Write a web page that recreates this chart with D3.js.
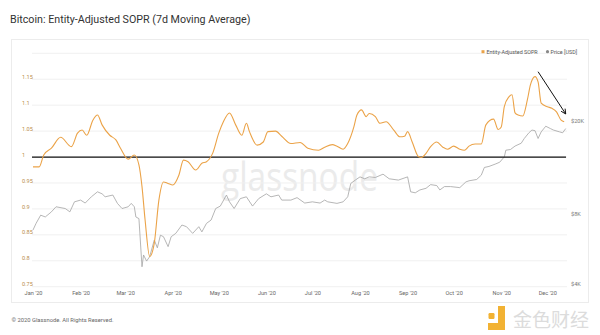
<!DOCTYPE html>
<html><head><meta charset="utf-8">
<script src="https://cdn.jsdelivr.net/npm/d3@7"></script>
<style>
html,body{margin:0;padding:0;background:#fff;}
svg{display:block;font-family:Roboto,"Noto Sans",sans-serif;}
</style></head>
<body><svg id="c" width="600" height="335"></svg>
<script>
const title = "Bitcoin: Entity-Adjusted SOPR (7d Moving Average)";
const footer = "© 2020 Glassnode. All Rights Reserved.";
const seriesNames = ["Entity-Adjusted SOPR", "Price [USD]"];
const soprTicks = [0.75, 0.8, 0.85, 0.9, 0.95, 1, 1.05, 1.1, 1.15, 1.2];
const soprTickLabels = ["0.75","0.8","0.85","0.9","0.95","1","1.05","1.1","1.15",""];
const priceTicks = [4000, 8000, 20000];
const priceTickLabels = ["$4K", "$8K", "$20K"];
const monthTicks = ["2020-01-01","2020-02-01","2020-03-01","2020-04-01","2020-05-01","2020-06-01","2020-07-01","2020-08-01","2020-09-01","2020-10-01","2020-11-01","2020-12-01"];

const soprDates = ["2020-01-01","2020-01-05","2020-01-08","2020-01-13","2020-01-19","2020-01-26","2020-01-30","2020-02-02","2020-02-05","2020-02-09","2020-02-12","2020-02-15","2020-02-20","2020-02-24","2020-02-27","2020-03-03","2020-03-07","2020-03-10","2020-03-12","2020-03-14","2020-03-17","2020-03-20","2020-03-23","2020-03-26","2020-03-29","2020-04-01","2020-04-05","2020-04-08","2020-04-11","2020-04-16","2020-04-20","2020-04-23","2020-04-27","2020-05-01","2020-05-04","2020-05-08","2020-05-12","2020-05-16","2020-05-19","2020-05-21","2020-05-26","2020-05-30","2020-06-02","2020-06-07","2020-06-11","2020-06-17","2020-06-23","2020-06-28","2020-07-05","2020-07-09","2020-07-14","2020-07-17","2020-07-21","2020-07-24","2020-07-28","2020-07-30","2020-08-02","2020-08-05","2020-08-07","2020-08-11","2020-08-14","2020-08-18","2020-08-23","2020-08-27","2020-08-30","2020-09-01","2020-09-04","2020-09-08","2020-09-10","2020-09-13","2020-09-16","2020-09-20","2020-09-24","2020-09-27","2020-10-01","2020-10-05","2020-10-08","2020-10-11","2020-10-15","2020-10-19","2020-10-22","2020-10-27","2020-10-30","2020-11-01","2020-11-03","2020-11-06","2020-11-08","2020-11-10","2020-11-12","2020-11-15","2020-11-18","2020-11-20","2020-11-23","2020-11-25","2020-11-27","2020-12-01","2020-12-04","2020-12-07","2020-12-10","2020-12-12"];
const soprValues = [0.981,0.981,1.004,1.017,1.038,1.020,1.046,1.052,1.042,1.071,1.081,1.062,1.042,1.033,1.017,0.996,1.004,0.985,0.943,0.879,0.808,0.834,0.917,0.952,0.949,0.946,0.965,0.994,0.991,0.975,0.988,0.991,1.007,1.046,1.068,1.085,1.062,1.042,1.065,1.049,1.023,1.029,1.049,1.050,1.040,1.026,1.028,1.017,1.013,1.019,1.024,1.021,1.015,1.026,1.058,1.081,1.091,1.078,1.084,1.078,1.065,1.068,1.052,1.039,1.040,1.049,1.029,1.001,0.999,1.007,1.020,1.029,1.019,1.015,1.021,1.015,1.013,1.021,1.025,1.025,1.062,1.073,1.053,1.058,1.097,1.116,1.120,1.085,1.081,1.079,1.110,1.139,1.155,1.145,1.104,1.097,1.094,1.087,1.071,1.068];

const priceDates = ["2020-01-01","2020-01-03","2020-01-06","2020-01-09","2020-01-13","2020-01-16","2020-01-22","2020-01-25","2020-01-28","2020-02-01","2020-02-04","2020-02-08","2020-02-12","2020-02-15","2020-02-17","2020-02-22","2020-02-25","2020-02-28","2020-03-03","2020-03-05","2020-03-07","2020-03-08","2020-03-10","2020-03-12","2020-03-13","2020-03-15","2020-03-17","2020-03-20","2020-03-22","2020-03-24","2020-03-26","2020-03-29","2020-03-31","2020-04-03","2020-04-07","2020-04-10","2020-04-14","2020-04-18","2020-04-20","2020-04-23","2020-04-26","2020-04-29","2020-05-02","2020-05-06","2020-05-08","2020-05-11","2020-05-15","2020-05-19","2020-05-23","2020-05-27","2020-06-01","2020-06-04","2020-06-09","2020-06-11","2020-06-17","2020-06-21","2020-06-26","2020-07-01","2020-07-06","2020-07-09","2020-07-11","2020-07-17","2020-07-21","2020-07-24","2020-07-26","2020-07-29","2020-08-01","2020-08-04","2020-08-07","2020-08-11","2020-08-16","2020-08-20","2020-08-26","2020-09-01","2020-09-03","2020-09-06","2020-09-09","2020-09-13","2020-09-16","2020-09-20","2020-09-22","2020-09-25","2020-09-29","2020-10-05","2020-10-09","2020-10-11","2020-10-16","2020-10-19","2020-10-21","2020-10-24","2020-10-28","2020-10-31","2020-11-03","2020-11-04","2020-11-07","2020-11-10","2020-11-14","2020-11-16","2020-11-19","2020-11-21","2020-11-23","2020-11-25","2020-11-27","2020-11-30","2020-12-03","2020-12-05","2020-12-09","2020-12-11","2020-12-13"];
const priceValues = [7000,7470,8100,7960,8370,8800,8650,8370,9240,9400,9130,9710,10200,10000,9710,9880,9100,8650,8800,9100,8800,7960,7830,4870,5470,5150,5380,6340,5870,6650,6550,5940,6550,6770,7350,7230,6770,7230,6870,7470,7720,8650,8860,9880,9240,8650,9540,9710,8860,9540,10000,9710,9880,9400,9400,9630,9130,9240,9130,9400,9240,9100,9240,9710,11080,11460,11820,11600,11820,11750,12140,11600,11450,11820,10200,10100,10390,10560,10950,10850,10390,10740,10740,10630,11250,11370,11520,12020,12970,13100,13400,13660,14400,15380,15480,16020,16470,17260,18260,18760,18640,17260,18420,19480,19040,18760,18420,18260,19040];

const arrowDates = ["2020-11-25","2020-12-13"];
const arrowValues = [1.1645, 1.083];

const parse = d3.utcParse("%Y-%m-%d");
const svg = d3.select("#c");

const x = d3.scaleUtc().domain([parse("2020-01-01"), parse("2020-12-01")]).range([33, 547.3]);
const y = d3.scaleLinear().domain([0.75, 1.2]).range([286.7, 53.3]);
const yp = d3.scaleLog().domain([4000, 40000]).range([286.7, 53.3]);
const plotL = 32, plotR = 567;

// title
svg.append("text").attr("x", 10).attr("y", 23).attr("font-size", 10.7).attr("fill", "#333").text(title);
// card
svg.append("rect").attr("x", 11.5).attr("y", 39.5).attr("width", 577).attr("height", 263).attr("fill", "none").attr("stroke", "#ececec");
// watermark
svg.append("text").attr("x", 221).attr("y", 191).attr("font-size", 40).attr("fill", "#ebebeb")
  .attr("textLength", 157).attr("lengthAdjust", "spacingAndGlyphs").attr("font-family", "'Open Sans', Roboto, sans-serif").text("glassnode");

// gridlines
svg.append("g").selectAll("line").data(soprTicks).join("line")
  .attr("x1", plotL).attr("x2", plotR).attr("y1", d => y(d)).attr("y2", d => y(d))
  .attr("stroke", "#f0f0f0").attr("stroke-width", 1);

// left labels
svg.append("g").selectAll("text").data(soprTicks).join("text")
  .attr("x", 22).attr("y", d => y(d) - 2.3).attr("dy", "0.35em")
  .attr("font-size", 5.6).attr("fill", "#b98d4e").text((d, i) => soprTickLabels[i]);

// right labels
svg.append("g").selectAll("text").data(priceTicks).join("text")
  .attr("x", 571).attr("y", d => yp(d) - 2.5).attr("dy", "0.35em")
  .attr("font-size", 5.6).attr("fill", "#777").text((d, i) => priceTickLabels[i]);

// x axis
const xa = svg.append("g").attr("transform", "translate(0,287)")
  .call(d3.axisBottom(x).tickValues(monthTicks.map(parse)).tickSize(0).tickPadding(4).tickFormat(d3.utcFormat("%b '%y")));
xa.select(".domain").remove();
xa.selectAll("text").attr("font-size", 5.6).attr("fill", "#666").attr("font-family", "Roboto, sans-serif");

// price line
const priceData = priceDates.map((d, i) => ({ d: parse(d), v: priceValues[i] }));
svg.append("path").datum(priceData)
  .attr("d", d3.line().x(p => x(p.d)).y(p => yp(p.v)))
  .attr("fill", "none").attr("stroke", "#a3a3a3").attr("stroke-width", 0.8);

// baseline at 1
svg.append("line").attr("x1", plotL).attr("x2", plotR - 1).attr("y1", y(1)).attr("y2", y(1))
  .attr("stroke", "#111").attr("stroke-width", 1.2);

// sopr line
const soprData = soprDates.map((d, i) => ({ d: parse(d), v: soprValues[i] }));
svg.append("path").datum(soprData)
  .attr("d", d3.line().x(p => x(p.d)).y(p => y(p.v)).curve(d3.curveMonotoneX))
  .attr("fill", "none").attr("stroke", "#eba348").attr("stroke-width", 1.1);

// legend
const lg = svg.append("g");
lg.append("rect").attr("x", 481.5).attr("y", 50.2).attr("width", 3).attr("height", 3).attr("fill", "#eba348");
lg.append("text").attr("x", 486.5).attr("y", 53.7).attr("font-size", 5.4).attr("fill", "#555").text(seriesNames[0]);
lg.append("circle").attr("cx", 547.5).attr("cy", 51.7).attr("r", 1.6).attr("fill", "#888");
lg.append("text").attr("x", 550.5).attr("y", 53.7).attr("font-size", 5.4).attr("fill", "#555").text(seriesNames[1]);

// arrow annotation
const defs = svg.append("defs");
defs.append("marker").attr("id", "ah").attr("viewBox", "0 0 10 10").attr("refX", 9).attr("refY", 5)
  .attr("markerWidth", 6).attr("markerHeight", 6).attr("orient", "auto")
  .append("path").attr("d", "M1,1 L9,5 L1,9").attr("fill", "none").attr("stroke", "#111").attr("stroke-width", 1.5);
svg.append("line")
  .attr("x1", x(parse(arrowDates[0]))).attr("y1", y(arrowValues[0]))
  .attr("x2", x(parse(arrowDates[1]))).attr("y2", y(arrowValues[1]))
  .attr("stroke", "#111").attr("stroke-width", 1).attr("marker-end", "url(#ah)");

// footer
svg.append("text").attr("x", 11.5).attr("y", 321.5).attr("font-size", 5.8).attr("fill", "#666").text(footer);

// Jinse watermark
const jw = svg.append("g");
jw.append("rect").attr("x", 488.5).attr("y", 313).attr("width", 6).attr("height", 6).attr("rx", 1.2).attr("fill", "#f2b233");
jw.append("path").attr("d", "M498,306 h7 v24 h-17 v-7 h10 z").attr("fill", "#f2b233");
jw.append("text").attr("x", 513).attr("y", 327).attr("font-size", 19).attr("fill", "#dcdcdc")
  .attr("font-family", "'Noto Sans CJK SC', sans-serif").text("金色财经");
</script></body></html>
